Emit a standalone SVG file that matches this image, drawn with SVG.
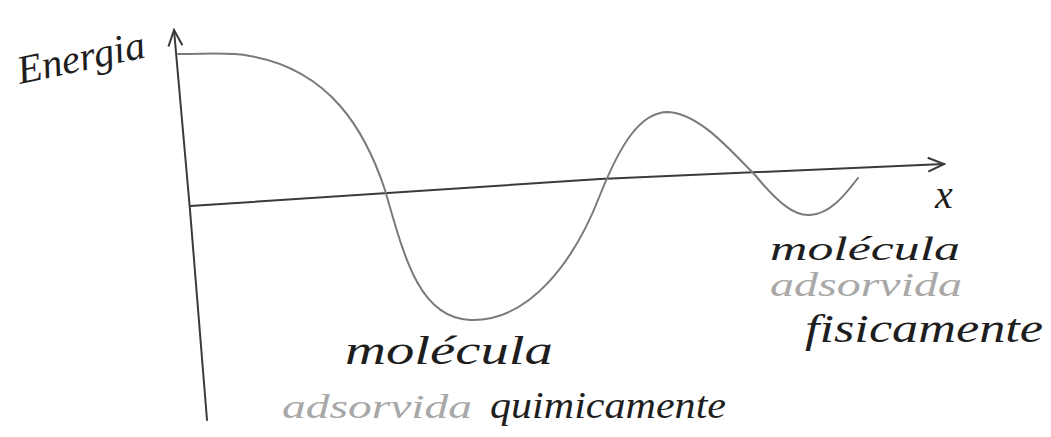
<svg xmlns="http://www.w3.org/2000/svg" width="1051" height="437" viewBox="0 0 1051 437">
<style>
.ax{fill:none;stroke:#3a3a3a;stroke-width:2;stroke-linecap:round}
.cv{fill:none;stroke:#7a7a7a;stroke-width:2;stroke-linecap:round}
.t{font-family:"Liberation Serif",serif;font-style:italic;fill:#1e1e1e}
.g{fill:#a8a8a8}
</style>
<defs>
<marker id="ah" viewBox="0 0 20 20" refX="18" refY="10" markerWidth="20" markerHeight="20" markerUnits="userSpaceOnUse" orient="auto">
<polyline points="2,3 18,10 2,17" fill="none" stroke="#3a3a3a" stroke-width="2"/>
</marker>
</defs>
<rect width="1051" height="437" fill="#fff"/>
<g id="connectors">
<path id="y-axis" class="ax" d="M207,420 L190,210 L174,30" marker-end="url(#ah)"/>
<path id="x-axis" class="ax" d="M190,206 L600,179 L944,164" marker-end="url(#ah)"/>
<path id="energy-curve" class="cv" d="M178,54 C210,54 230,52 250,56 C330,70 365,130 385,190 C405,260 420,318 470,320 C530,322 575,260 600,195 C620,145 640,112 668,112 C700,114 730,150 755,175 C780,205 795,216 810,215 C830,214 845,195 858,178"/>
</g>
<g id="label-energia"><text class="t" x="20" y="84" font-size="40" textLength="130" lengthAdjust="spacingAndGlyphs" transform="rotate(-12 20 84)">Energia</text></g>
<g id="label-x"><text class="t" x="935" y="208" font-size="40">x</text></g>
<g id="label-fisica">
<text class="t" x="770" y="260" font-size="34" textLength="190" lengthAdjust="spacingAndGlyphs">molécula</text>
<text class="t g" x="770" y="296" font-size="34" textLength="192" lengthAdjust="spacingAndGlyphs">adsorvida</text>
<text class="t" x="805" y="342" font-size="40" textLength="238" lengthAdjust="spacingAndGlyphs">fisicamente</text>
</g>
<g id="label-quimica">
<text class="t" x="345" y="364" font-size="40" textLength="208" lengthAdjust="spacingAndGlyphs">molécula</text>
<text class="t g" x="282" y="418" font-size="34" textLength="190" lengthAdjust="spacingAndGlyphs">adsorvida</text>
<text class="t" x="490" y="418" font-size="38" textLength="236" lengthAdjust="spacingAndGlyphs">quimicamente</text>
</g>
</svg>
